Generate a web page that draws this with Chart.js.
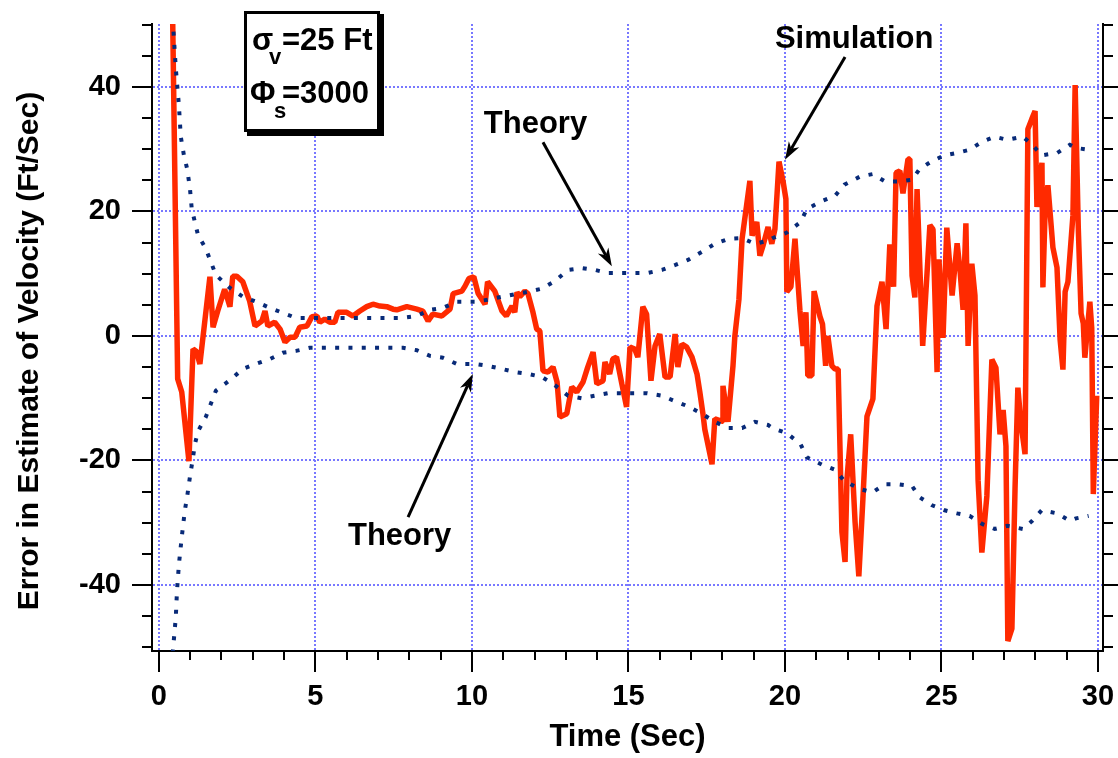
<!DOCTYPE html>
<html>
<head>
<meta charset="utf-8">
<script src="https://cdn.jsdelivr.net/npm/chart.js@4.4.1/dist/chart.umd.min.js"></script>
<style>
    body { margin: 0; background: #fff; }
    #wrap { width: 1118px; height: 758px; }
</style>
</head>
<body>
<div id="wrap"><canvas id="errorChart" width="1118" height="758"></canvas></div>
<script>
// simulation: error in velocity estimate (ft/sec) vs time (sec)
const simTime = [
    0.44, 0.6, 0.73, 0.96, 1.09, 1.2, 1.31, 1.63, 1.73, 1.88,
    2.1, 2.27, 2.36, 2.49, 2.68, 2.9, 3.07, 3.29, 3.39, 3.48,
    3.7, 3.87, 4.03, 4.19, 4.35, 4.5, 4.73, 4.89, 5.05, 5.14,
    5.3, 5.46, 5.62, 5.72, 6.0, 6.2, 6.42, 6.64, 6.84, 7.06,
    7.28, 7.48, 7.6, 7.92, 8.24, 8.43, 8.6, 8.75, 9.04, 9.3,
    9.4, 9.68, 9.78, 9.9, 10.06, 10.2, 10.42, 10.5, 10.73, 10.96,
    11.1, 11.28, 11.37, 11.44, 11.53, 11.69, 11.79, 11.95, 12.07, 12.17,
    12.27, 12.43, 12.59, 12.72, 12.81, 13.03, 13.19, 13.35, 13.55, 13.7,
    13.87, 13.99, 14.19, 14.25, 14.4, 14.5, 14.62, 14.79, 14.94, 15.05,
    15.2, 15.3, 15.46, 15.58, 15.72, 15.85, 16.0, 16.17, 16.33, 16.49,
    16.58, 16.71, 16.86, 17.03, 17.19, 17.28, 17.38, 17.44, 17.67, 17.76,
    17.99, 18.02, 18.18, 18.34, 18.4, 18.53, 18.63, 18.88, 18.95, 19.1,
    19.2, 19.3, 19.46, 19.58, 19.68, 19.81, 19.94, 20.03, 20.06, 20.19,
    20.32, 20.48, 20.58, 20.67, 20.73, 20.86, 20.93, 21.12, 21.2, 21.3,
    21.37, 21.5, 21.6, 21.7, 21.82, 21.92, 21.98, 22.1, 22.24, 22.36,
    22.49, 22.62, 22.81, 22.94, 23.1, 23.23, 23.35, 23.47, 23.55, 23.67,
    23.77, 23.93, 23.99, 24.06, 24.15, 24.22, 24.4, 24.63, 24.73, 24.86,
    24.92, 25.05, 25.17, 25.34, 25.5, 25.59, 25.69, 25.78, 25.85, 25.97,
    26.07, 26.17, 26.29, 26.45, 26.61, 26.74, 26.87, 26.97, 27.06, 27.12,
    27.25, 27.35, 27.44, 27.54, 27.67, 27.76, 27.89, 27.99, 28.05, 28.21,
    28.24, 28.31, 28.4, 28.56, 28.69, 28.79, 28.88, 28.95, 29.04, 29.2,
    29.27, 29.37, 29.46, 29.53, 29.58, 29.74, 29.8, 29.85, 29.96
];
const simError = [
    51, -6.9, -9, -20.1, -2.1, -2.5, -4.5, 9.5, 1.4, 4,
    7.5, 4.7, 9.6, 9.6, 8.7, 5.6, 1.6, 2.4, 4, 1.6,
    2.2, 1.1, -1, -0.2, -0.2, 1.4, 1.6, 3.1, 3.2, 2.2,
    2.7, 2.2, 2.2, 3.8, 3.8, 3.2, 4, 4.7, 5.1, 4.8,
    4.7, 4.3, 4.2, 4.7, 4.3, 4.0, 2.4, 3.5, 3.2, 4.3,
    6.8, 7.2, 8.0, 9.2, 9.5, 6.8, 5.1, 8.7, 7.2, 4.0,
    3.2, 4.8, 3.8, 7.0, 6.3, 7.2, 6.8, 3.8, 1.1, 0.8,
    -5.6, -5.8, -5, -7.4, -13, -12.5, -8.2, -9, -7.4, -5,
    -2.6, -7.7, -7.2, -4.2, -6.1, -3.7, -3.4, -7.7, -11.4, -1.8,
    -2.1, -3.4, 4.7, 3.5, -7.2, -1.6, 0.3, -6.6, -6.6, 0.3,
    -5, -1.3, -1.8, -3.4, -6.1, -9, -12.5, -15, -20.6, -13.3,
    -13.7, -8, -13.8, -4.8, 0, 5.9, 15.6, 24.9, 16.1, 18.3,
    12.9, 14.5, 17.5, 14.8, 17.2, 28, 24.8, 22, 7.1, 7.9,
    15.6, 4.0, -1.6, 3.8, -6.4, -6.4, 7.2, 3.1, 1.9, -4.8,
    0, -4.8, -5.3, -5.3, -31.5, -36.3, -23, -15.8, -29.9, -38.6,
    -26.2, -12.9, -10.1, 4.8, 8.7, 1.1, 14.7, 7.9, 26.2, 26.5,
    22.9, 28.4, 28.4, 9.7, 6.2, 23.6, -1.6, 17.8, 17.1, -5.8,
    12.3, -0.3, 17.4, 6.5, 14.9, 10.7, 4.2, 18.1, -1.6, 11.6,
    6.5, -23.2, -34.8, -25.7, -3.8, -5.1, -15.8, -11.9, -17.7, -49,
    -47, -24.5, -8.3, -14.1, -19, 33.2, 34.9, 36.1, 20.7, 27.8,
    7.8, 20, 24.2, 14.2, 11, -0.6, -5.4, 7.1, 8.7, 19.4,
    40.3, 17.4, 3.6, 2.0, -3.5, 5.5, 1.3, -25.4, -9.6
];

// theory: upper and lower bounds
const theoryUpTime = [
    0.44, 0.54, 0.64, 0.7, 0.8, 0.9, 0.99, 1.05, 1.15, 1.25,
    1.5, 1.66, 1.82, 2.27, 2.68, 3.1, 3.55, 3.96, 4.38, 7.8,
    8.24, 8.66, 9.07, 9.52, 10.1, 10.5, 10.96, 11.37, 11.79, 12.24,
    12.65, 13.07, 13.51, 13.93, 14.35, 15.6, 16.07, 16.5, 16.9, 17.35,
    17.76, 18.2, 18.63, 19.04, 19.46, 19.6, 20.06, 20.5, 20.7, 21.2,
    21.6, 21.9, 22.4, 22.8, 23.2, 23.6, 24.06, 24.3, 24.7, 25.1,
    25.5, 25.9, 26.3, 26.7, 27.1, 27.6, 27.9, 28.2, 28.7, 29.1,
    29.3, 29.7
];
const theoryUp = [
    51, 43, 37, 32, 29, 26.9, 23.8, 20.4, 18.3, 16.2,
    14.0, 11.9, 9.8, 7.7, 6.3, 5.5, 4.5, 3.7, 2.9, 2.9,
    3.2, 4.2, 4.5, 5.5, 5.5, 5.8, 6.3, 6.7, 7.1, 7.6,
    8.8, 10.6, 10.9, 10.6, 10.1, 10.1, 10.6, 11.4, 12.2, 13.5,
    14.8, 15.6, 15.7, 14.8, 15.3, 15.7, 16.6, 18.3, 20.4, 21.7,
    22.5, 24.3, 25.6, 26.0, 24.8, 24.8, 25.1, 26.8, 28.1, 29.0,
    29.4, 29.9, 31.2, 32.0, 31.5, 32.0, 30.7, 29.0, 29.4, 30.7,
    30.2, 29.9
];
const theoryLowTime = [
    0.44, 0.54, 0.58, 0.64, 0.73, 0.83, 0.9, 0.99, 1.09, 1.15,
    1.25, 1.5, 1.66, 1.82, 2.27, 2.68, 3.1, 3.55, 3.96, 4.38,
    4.82, 7.8, 8.24, 8.66, 9.07, 9.52, 10.1, 10.5, 10.96, 11.37,
    11.79, 12.24, 12.65, 13.07, 13.5, 13.93, 14.35, 15.6, 16.07, 16.5,
    16.9, 17.35, 17.76, 18.2, 18.63, 19.04, 19.46, 19.6, 20.06, 20.5,
    20.7, 21.2, 21.6, 21.9, 22.4, 22.8, 23.2, 23.6, 24.06, 24.3,
    24.7, 25.1, 25.5, 25.9, 26.3, 26.7, 27.1, 27.6, 27.9, 28.2,
    28.7, 29.1, 29.3, 29.7
];
const theoryLow = [
    -51, -45.2, -40.8, -36.7, -32.3, -28.0, -25.9, -22.7, -19.5, -17.4,
    -15.3, -13.0, -10.9, -8.8, -7.1, -5.3, -4.5, -3.7, -2.7, -2.4,
    -1.9, -1.9, -2.3, -3.2, -3.5, -4.5, -4.5, -4.8, -5.3, -5.8,
    -6.1, -6.6, -7.9, -9.6, -10.0, -9.6, -9.2, -9.2, -9.6, -10.5,
    -11.3, -12.5, -13.8, -14.8, -14.8, -13.8, -14.3, -14.8, -15.6, -17.4,
    -19.5, -20.7, -21.5, -23.3, -24.6, -25.1, -23.8, -23.8, -24.1, -25.9,
    -27.2, -28.0, -28.5, -28.9, -30.2, -31.0, -30.5, -31.0, -29.7, -28.0,
    -28.5, -29.7, -29.3, -28.9
];

const xTicks = [0, 5, 10, 15, 20, 25, 30];
const yTicks = [-40, -20, 0, 20, 40];
const xMinorTicks = [0, 1, 2, 3, 4, 5, 6, 7, 8, 9, 10, 11, 12, 13, 14, 15,
    16, 17, 18, 19, 20, 21, 22, 23, 24, 25, 26, 27, 28, 29, 30];
const yMinorTicks = [-50, -45, -40, -35, -30, -25, -20, -15, -10, -5, 0,
    5, 10, 15, 20, 25, 30, 35, 40, 45, 50];

const FONT = '"Liberation Sans", Arial, Helvetica, sans-serif';
const gridBlue = 'rgb(120, 120, 255)';
const navy = '#082a78';

// labels with arrows, anchored in data units
const notes = [
    { text: 'Theory', x: 10.38, y: 32.6, from: [12.27, 31.1], to: [14.47, 11.2] },
    { text: 'Simulation', x: 19.68, y: 46.2, from: [21.92, 44.8], to: [20.0, 28.3] },
    { text: 'Theory', x: 6.04, y: -33.6, from: [7.96, -29.1], to: [10.03, -6.1] }
];

function toPoints(xs, ys) {
    return xs.map((t, i) => ({ x: t, y: ys[i] }));
}

// keep the plot box where it is in the original, no label overhang padding
function fixBox(size) {
    return function (scale) {
        if (scale.isHorizontal()) scale.height = size; else scale.width = size;
        scale.paddingTop = 0;
        scale.paddingBottom = 0;
        scale.paddingLeft = 0;
        scale.paddingRight = 0;
    };
}

function arrow(ctx, x1, y1, x2, y2) {
    const ang = Math.atan2(y2 - y1, x2 - x1);
    const head = 18;
    const c = Math.cos(ang), s = Math.sin(ang);
    ctx.beginPath();
    ctx.moveTo(x1, y1);
    ctx.lineTo(x2 - c * head * 0.7, y2 - s * head * 0.7);
    ctx.stroke();
    ctx.beginPath();
    ctx.moveTo(x2, y2);
    ctx.lineTo(x2 - head * c + 6 * s, y2 - head * s - 6 * c);
    ctx.lineTo(x2 - head * 0.7 * c, y2 - head * 0.7 * s);
    ctx.lineTo(x2 - head * c - 6 * s, y2 - head * s + 6 * c);
    ctx.closePath();
    ctx.fill();
}

const decor = {
    id: 'decor',
    afterDraw(chart) {
        const { ctx, chartArea: a, scales: { x, y } } = chart;
        ctx.save();

        // tick marks, long on majors
        ctx.strokeStyle = '#000';
        ctx.lineWidth = 2;
        ctx.beginPath();
        xMinorTicks.forEach(v => {
            const px = Math.round(x.getPixelForValue(v));
            const len = v % 5 === 0 ? 21 : 9;
            ctx.moveTo(px, a.bottom);
            ctx.lineTo(px, a.bottom + len);
        });
        yMinorTicks.forEach(v => {
            const py = Math.round(y.getPixelForValue(v));
            const len = v % 20 === 0 ? 20 : 10;
            ctx.moveTo(a.left, py);
            ctx.lineTo(a.left - len, py);
            ctx.moveTo(a.right, py);
            ctx.lineTo(a.right + len, py);
        });
        ctx.stroke();

        // y axis title
        ctx.fillStyle = '#000';
        ctx.font = 'bold 30px ' + FONT;
        ctx.textAlign = 'center';
        ctx.textBaseline = 'middle';
        ctx.save();
        ctx.translate(30, 351);
        ctx.rotate(-Math.PI / 2);
        ctx.fillText('Error in Estimate of Velocity (Ft/Sec)', 0, 0);
        ctx.restore();

        // annotations
        ctx.textAlign = 'left';
        ctx.textBaseline = 'alphabetic';
        ctx.font = 'bold 31px ' + FONT;
        ctx.lineWidth = 3;
        notes.forEach(n => {
            ctx.fillText(n.text, x.getPixelForValue(n.x), y.getPixelForValue(n.y));
            arrow(ctx,
                x.getPixelForValue(n.from[0]), y.getPixelForValue(n.from[1]),
                x.getPixelForValue(n.to[0]), y.getPixelForValue(n.to[1]));
        });

        // parameter box with drop shadow
        ctx.fillRect(247, 14, 137, 122);
        ctx.fillStyle = '#fff';
        ctx.fillRect(244, 11, 136, 121);
        ctx.strokeStyle = '#000';
        ctx.lineWidth = 3;
        ctx.strokeRect(245.5, 12.5, 133, 118);
        ctx.fillStyle = '#000';
        ctx.font = 'bold 31px ' + FONT;
        ctx.fillText('\u03C3', 252, 50);
        ctx.fillText('=25 Ft', 282, 50);
        ctx.fillText('\u03A6', 250, 103);
        ctx.fillText('=3000', 282, 103);
        ctx.font = 'bold 22px ' + FONT;
        ctx.fillText('v', 269, 64);
        ctx.fillText('s', 274, 118);

        ctx.restore();
    }
};

Chart.defaults.font.family = FONT;
Chart.defaults.color = '#000';

const ctx = document.getElementById('errorChart').getContext('2d');
new Chart(ctx, {
    type: 'line',
    data: {
        datasets: [{
            label: 'Simulation',
            data: toPoints(simTime, simError),
            borderColor: '#ff2a00',
            borderWidth: 5.5,
            borderJoinStyle: 'bevel',
            pointRadius: 0,
            tension: 0,
            order: 2
        },
        {
            label: 'Theory (upper)',
            data: toPoints(theoryUpTime, theoryUp),
            borderColor: navy,
            borderWidth: 4,
            borderDash: [4, 9.3],
            pointRadius: 0,
            tension: 0,
            order: 1
        },
        {
            label: 'Theory (lower)',
            data: toPoints(theoryLowTime, theoryLow),
            borderColor: navy,
            borderWidth: 4,
            borderDash: [4, 9.3],
            pointRadius: 0,
            tension: 0,
            order: 1
        }]
    },
    options: {
        responsive: false,
        animation: false,
        layout: { padding: { top: 24 } },
        plugins: {
            legend: { display: false },
            tooltip: { enabled: false }
        },
        scales: {
            x: {
                type: 'linear',
                min: -0.22,
                max: 30.16,
                afterFit: fixBox(107),
                afterBuildTicks: function (scale) {
                    scale.ticks = xTicks.map(v => ({ value: v }));
                },
                ticks: {
                    padding: 29,
                    color: '#000',
                    font: { size: 29, weight: 'bold' },
                    callback: function (value) { return String(value); }
                },
                grid: { color: gridBlue, lineWidth: 2, drawTicks: false },
                border: { display: true, color: '#000', width: 2, dash: [2, 2] },
                title: {
                    display: true,
                    text: 'Time (Sec)',
                    color: '#000',
                    font: { size: 31, weight: 'bold' },
                    padding: { top: 0, bottom: 2 }
                }
            },
            y: {
                type: 'linear',
                min: -50.6,
                max: 50.1,
                afterFit: fixBox(152),
                afterBuildTicks: function (scale) {
                    scale.ticks = yTicks.map(v => ({ value: v }));
                },
                ticks: {
                    padding: 31,
                    color: '#000',
                    font: { size: 29, weight: 'bold' },
                    callback: function (value) { return String(value); }
                },
                grid: { color: gridBlue, lineWidth: 2, drawTicks: false },
                border: { display: true, color: '#000', width: 2, dash: [2, 2] }
            },
            y2: {
                type: 'linear',
                position: 'right',
                min: -50.6,
                max: 50.1,
                afterFit: fixBox(15),
                ticks: { display: false },
                grid: { display: false },
                border: { display: true, color: '#000', width: 2 }
            }
        }
    },
    plugins: [decor]
});
</script>
</body>
</html>
